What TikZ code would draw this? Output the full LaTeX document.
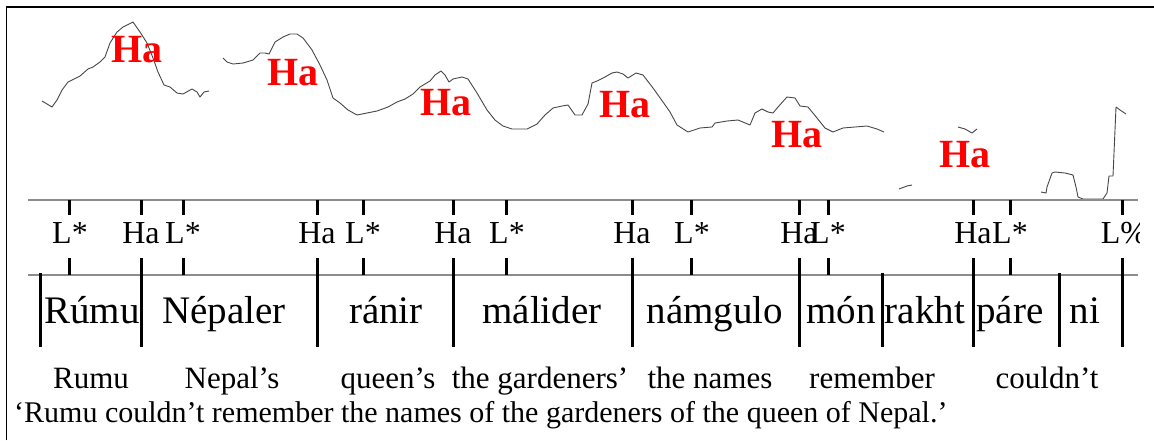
\documentclass[tikz,border=0pt]{standalone}
\usepackage{fontspec}
\setmainfont{Liberation Serif}
\begin{document}
\begin{tikzpicture}[x=1pt,y=-1pt,
  track/.style={draw=black!72, line width=0.9pt, line join=round},
  tier/.style={draw=black!45, line width=1.4pt},
  tickmark/.style={draw=black, line width=3pt},
  hatone/.style={text=red, font=\fontsize{40}{40}\selectfont\bfseries, inner sep=0pt, anchor=base},
  tonelab/.style={font=\fontsize{32}{32}\selectfont, inner sep=0pt, anchor=base},
  wordlab/.style={font=\fontsize{39}{39}\selectfont, inner sep=0pt, anchor=base},
  glosslab/.style={font=\fontsize{31}{31}\selectfont, inner sep=0pt, anchor=base},
  translab/.style={font=\fontsize{30}{30}\selectfont, inner sep=0pt, anchor=base west}]
\useasboundingbox (0,0) rectangle (1154,440);
\fill[white] (0,0) rectangle (1154,440);
% frame
\draw[line width=1.8pt] (6.5,440) -- (6.5,7) -- (1154,7);
% pitch track
\draw[track] (42,101) -- (52,107) -- (57,100) -- (62,90) -- (68,82) -- (80,76) -- (88,69) -- (93,67) -- (100,62) -- (105,57) -- (110,43) -- (117,32) -- (123,27) -- (133,22) -- (140,32) -- (147,43) -- (153,58) -- (158,72) -- (164,85) -- (170,87) -- (177,93) -- (183,94) -- (192,89) -- (197,92) -- (200,97) -- (204,92) -- (209,91);
\draw[track] (223,58) -- (227,62) -- (233,64) -- (243,63) -- (253,60) -- (260,53) -- (265,53) -- (269,54) -- (275,42) -- (283,37) -- (290,34) -- (297,34) -- (303,38) -- (312,50) -- (320,65) -- (327,80) -- (333,98) -- (340,103) -- (348,110) -- (357,115) -- (367,113) -- (377,111) -- (388,107) -- (397,102) -- (405,99) -- (413,94) -- (420,87) -- (430,81) -- (435,75) -- (441,71) -- (445,75) -- (449,82) -- (453,79) -- (462,77) -- (468,79) -- (477,93) -- (487,110) -- (495,120) -- (503,126) -- (512,129) -- (527,129) -- (537,124) -- (545,115) -- (553,108) -- (562,106) -- (568,105) -- (575,115) -- (582,115) -- (588,104) -- (592,83) -- (597,81) -- (605,77) -- (612,73) -- (617,72) -- (623,74) -- (628,78) -- (636,73) -- (643,75) -- (653,88) -- (663,102) -- (670,112) -- (677,125) -- (688,132) -- (700,128) -- (712,127) -- (715,123) -- (727,121) -- (738,120) -- (750,125) -- (755,113) -- (762,109) -- (768,112) -- (773,113) -- (778,107) -- (787,97) -- (795,98) -- (800,106) -- (808,107) -- (817,118) -- (825,128) -- (833,132) -- (843,128) -- (855,127) -- (867,126) -- (877,129) -- (884,132);
\draw[track] (899,189) -- (907,186) -- (912,185);
\draw[track] (958,127) -- (965,129) -- (972,133) -- (977,129);
\draw[track] (1041,192) -- (1046,193) -- (1047,187) -- (1052,173) -- (1055,172) -- (1065,173) -- (1073,175) -- (1076,187) -- (1078,197) -- (1083,199) -- (1103,199) -- (1107,193) -- (1109,176) -- (1113,176) -- (1116,107) -- (1120,110) -- (1126,114);
% red Ha labels
\node[hatone] (h1) at (137,62) {Ha};
\node[hatone] (h2) at (293,85) {Ha};
\node[hatone] (h3) at (446,115) {Ha};
\node[hatone] (h4) at (625,117) {Ha};
\node[hatone] (h5) at (797,147) {Ha};
\node[hatone] (h6) at (965,167) {Ha};
% tiers
\coordinate (t1l) at (28,200); \coordinate (t1r) at (1138,200);
\coordinate (t2l) at (28,275); \coordinate (t2r) at (1138,275);
\draw[tier] (t1l) -- (t1r);
\draw[tier] (t2l) -- (t2r);
% tone ticks
\foreach \x in {69,141,183,317,363,453,506,632,691,799,828,973,1010,1122} {
  \draw[tickmark] (\x,200) -- (\x,215);
  \draw[tickmark] (\x,258) -- (\x,275);
}
% word boundaries
\foreach \x in {141,317,453,632,799,973,1122} {
  \draw[tickmark] (\x,258) -- (\x,347);
}
\foreach \x in {40,882,1059} {
  \draw[tickmark] (\x,273) -- (\x,347);
}
% tone labels
\node[tonelab] (a1) at (70,243) {L*};
\node[tonelab] (a2) at (141,243) {Ha};
\node[tonelab] (a3) at (183,243) {L*};
\node[tonelab] (a4) at (317,243) {Ha};
\node[tonelab] (a5) at (363,243) {L*};
\node[tonelab] (a6) at (453,243) {Ha};
\node[tonelab] (a7) at (507,243) {L*};
\node[tonelab] (a8) at (632,243) {Ha};
\node[tonelab] (a9) at (692,243) {L*};
\node[tonelab] (a10) at (799,243) {Ha};
\node[tonelab] (a11) at (828,243) {L*};
\node[tonelab] (a12) at (973,243) {Ha};
\node[tonelab] (a13) at (1010,243) {L*};
\begin{scope}
\clip (0,0) rectangle (1139,440);
\node[tonelab] (a14) at (1124,243) {L\%};
\end{scope}
% words
\node[wordlab] (w1) at (92,323) {Rúmu};
\node[wordlab] (w2) at (224,323) {Népaler};
\node[wordlab] (w3) at (386,323) {ránir};
\node[wordlab] (w4) at (542,323) {málider};
\node[wordlab] (w5) at (715,323) {námgulo};
\node[wordlab] (w6) at (841,323) {món};
\node[wordlab] (w7) at (925,323) {rakht};
\node[wordlab] (w8) at (1010,323) {páre};
\node[wordlab] (w9) at (1085,323) {ni};
% gloss
\node[glosslab] (g1) at (91,388) {Rumu};
\node[glosslab] (g2) at (232,388) {Nepal’s};
\node[glosslab] (g3) at (388,388) {queen’s};
\node[glosslab] (g4) at (540,388) {the gardeners’};
\node[glosslab] (g5) at (710,388) {the names};
\node[glosslab] (g6) at (872,388) {remember};
\node[glosslab] (g7) at (1047,388) {couldn’t};
\node[translab] (tr) at (14,422) {‘Rumu couldn’t remember the names of the gardeners of the queen of Nepal.’};
\end{tikzpicture}
\end{document}
